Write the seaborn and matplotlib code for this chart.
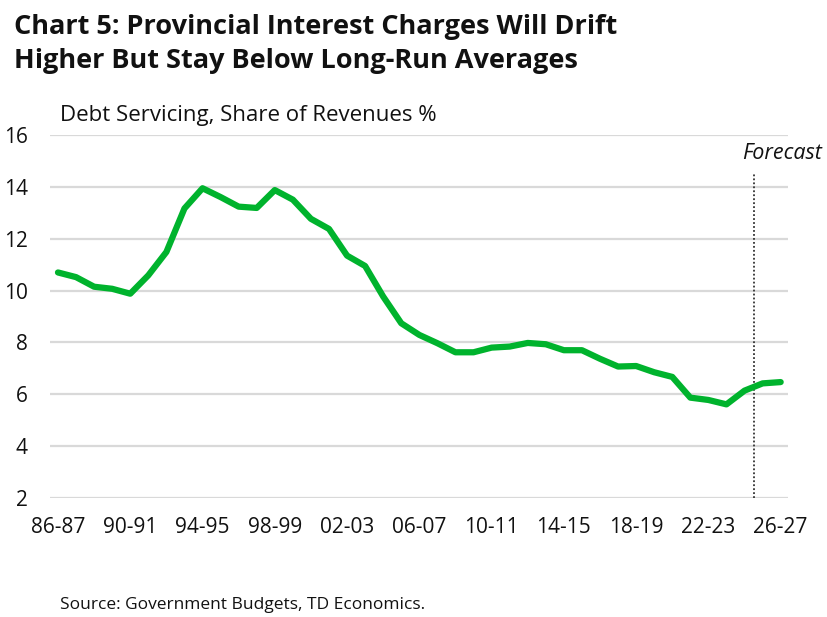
"""
Chart 5: provincial debt-servicing costs as a share of revenues, 86-87 to 26-27.
"""

import matplotlib
matplotlib.use("Agg")
import matplotlib.pyplot as plt
import pandas as pd
import seaborn as sns

YEARS = list(range(1986, 2027))
DEBT_SERVICING = [
    10.70, 10.52, 10.15, 10.07, 9.88, 10.59, 11.49, 13.17, 13.95, 13.61,
    13.24, 13.19, 13.88, 13.51, 12.77, 12.38, 11.35, 10.95, 9.77, 8.74,
    8.29, 7.97, 7.62, 7.62, 7.80, 7.84, 7.98, 7.93, 7.70, 7.70,
    7.37, 7.07, 7.09, 6.85, 6.67, 5.87, 5.78, 5.61, 6.14, 6.42,
    6.47,
]
FORECAST_START = 2024.5
TICK_YEARS = list(range(1986, 2027, 4))

GREEN = "#00b32d"
FONT = "Open Sans"


def fy_label(y):
    return f"{y % 100:02d}-{(y + 1) % 100:02d}"


def main():
    sns.set_theme(style="white")
    plt.rcParams["font.family"] = [FONT, "DejaVu Sans"]

    df = pd.DataFrame({"year": YEARS, "value": DEBT_SERVICING})

    fig = plt.figure(figsize=(8.27, 6.17), dpi=100)
    ax = fig.add_axes([0.0605, 0.193, 0.892, 0.588])

    for y in range(2, 17, 2):
        ax.axhline(y, color="#d9d9d9", linewidth=1.6, zorder=0)

    sns.lineplot(data=df, x="year", y="value", color=GREEN, linewidth=4.5, ax=ax, zorder=3)

    # forecast divider
    ax.plot([FORECAST_START, FORECAST_START], [2, 14.55], color="#333333",
            linestyle=(0, (1, 1.2)), linewidth=1.3, zorder=2)
    ax.text(2026.1, 15.3, "Forecast", ha="center", va="center", fontsize=15.5,
            style="italic", color="#111111")

    ax.set_xlim(1986 - 0.44, 2026.39)
    ax.set_ylim(2, 16)
    ax.set_xticks(TICK_YEARS)
    ax.set_xticklabels([fy_label(y) for y in TICK_YEARS])
    ax.set_yticks(range(2, 17, 2))
    ax.tick_params(axis="both", length=0, labelsize=15, colors="#111111")
    ax.tick_params(axis="x", pad=14)
    ax.tick_params(axis="y", pad=16)
    ax.set_xlabel("")
    ax.set_ylabel("")
    sns.despine(ax=ax, left=True, bottom=True)

    fig.text(0.017, 0.978, "Chart 5: Provincial Interest Charges Will Drift\n"
             "Higher But Stay Below Long-Run Averages",
             ha="left", va="top", fontsize=19.5, fontweight="bold",
             color="#111111", linespacing=1.4)
    fig.text(0.072, 0.813, "Debt Servicing, Share of Revenues %", ha="left",
             va="center", fontsize=16, color="#111111")
    fig.text(0.072, 0.019, "Source: Government Budgets, TD Economics.", ha="left",
             va="center", fontsize=12.5, color="#111111")

    fig.savefig("out.png", dpi=100)
    plt.close(fig)


if __name__ == "__main__":
    main()
